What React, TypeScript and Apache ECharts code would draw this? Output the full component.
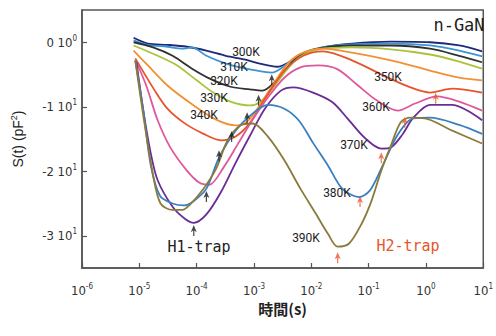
import React, { useEffect, useRef } from 'react';
import * as echarts from 'echarts';

// x values are log10(t / s), y values are S(t)
const xTickExponents = [-6, -5, -4, -3, -2, -1, 0, 1];
const yTickValues = [0, -1, -2, -3];
const yTickPowers = ['0', '1', '1', '1'];

const temperatures = ['300K', '310K', '320K', '330K', '340K', '350K', '360K', '370K', '380K', '390K'];

const s300K = [[-5.10, 0.07], [-4.85, -0.02], [-4.51, -0.04], [-4.17, -0.07], [-3.83, -0.13], [-3.49, -0.21], [-3.15, -0.27], [-2.90, -0.33], [-2.59, -0.38], [-2.39, -0.31], [-2.14, -0.19], [-1.80, -0.08], [-1.29, -0.02], [-0.61, 0.01], [0.07, 0.0], [0.58, -0.05], [0.98, -0.14]];
const s310K = [[-5.10, 0.03], [-4.85, -0.04], [-4.51, -0.07], [-4.25, -0.10], [-4.08, -0.08], [-3.83, -0.21], [-3.49, -0.33], [-3.07, -0.42], [-2.68, -0.47], [-2.44, -0.35], [-2.22, -0.21], [-1.97, -0.11], [-1.46, -0.04], [-0.61, -0.02], [0.07, -0.05], [0.58, -0.13], [0.98, -0.22]];
const s320K = [[-5.10, 0.0], [-4.76, -0.08], [-4.42, -0.21], [-4.08, -0.41], [-3.78, -0.56], [-3.41, -0.69], [-3.07, -0.73], [-2.85, -0.75], [-2.64, -0.62], [-2.44, -0.41], [-2.22, -0.22], [-1.88, -0.10], [-1.29, -0.05], [-0.61, -0.05], [0.07, -0.10], [0.58, -0.21], [0.98, -0.31]];
const s330K = [[-5.10, -0.05], [-4.68, -0.21], [-4.34, -0.36], [-4.00, -0.59], [-3.71, -0.78], [-3.41, -0.92], [-3.07, -0.98], [-2.90, -0.93], [-2.68, -0.72], [-2.44, -0.44], [-2.22, -0.24], [-1.88, -0.11], [-1.29, -0.08], [-0.61, -0.11], [0.07, -0.19], [0.58, -0.30], [0.98, -0.41]];
const s340K = [[-5.10, -0.13], [-4.85, -0.36], [-4.51, -0.67], [-4.05, -0.98], [-3.66, -1.20], [-3.32, -1.29], [-3.12, -1.23], [-2.90, -0.98], [-2.64, -0.62], [-2.39, -0.31], [-2.14, -0.16], [-1.80, -0.10], [-1.29, -0.16], [-0.61, -0.28], [0.07, -0.44], [0.58, -0.55], [0.98, -0.59]];
const s350K = [[-5.07, -0.25], [-4.73, -0.75], [-4.51, -1.03], [-4.22, -1.25], [-3.88, -1.42], [-3.58, -1.52], [-3.32, -1.46], [-3.07, -1.25], [-2.81, -0.88], [-2.47, -0.44], [-2.14, -0.21], [-1.80, -0.14], [-1.29, -0.28], [-0.66, -0.55], [-0.27, -0.70], [0.07, -0.78], [0.46, -0.72], [0.98, -0.78]];
const s360K = [[-5.05, -0.31], [-4.88, -0.67], [-4.68, -1.21], [-4.46, -1.63], [-4.17, -1.99], [-3.95, -2.18], [-3.78, -2.21], [-3.53, -1.94], [-3.27, -1.56], [-3.03, -1.21], [-2.76, -0.86], [-2.47, -0.55], [-2.19, -0.39], [-1.88, -0.36], [-1.54, -0.42], [-1.20, -0.66], [-0.86, -0.90], [-0.49, -1.06], [-0.19, -0.95], [0.19, -0.84], [0.58, -0.92], [0.98, -1.06]];
const s370K = [[-5.05, -0.31], [-4.93, -1.06], [-4.81, -1.68], [-4.68, -2.14], [-4.42, -2.55], [-4.20, -2.74], [-4.05, -2.80], [-3.83, -2.67], [-3.58, -2.33], [-3.32, -1.87], [-3.07, -1.45], [-2.81, -1.03], [-2.53, -0.75], [-2.31, -0.70], [-1.97, -0.78], [-1.63, -0.93], [-1.37, -1.18], [-1.07, -1.48], [-0.78, -1.65], [-0.61, -1.63], [-0.41, -1.43], [-0.22, -1.17], [0.07, -0.97], [0.46, -0.97], [0.98, -1.21]];
const s380K = [[-5.07, -0.28], [-4.93, -1.06], [-4.80, -1.91], [-4.64, -2.38], [-4.42, -2.50], [-4.22, -2.53], [-4.05, -2.46], [-3.83, -2.27], [-3.61, -1.79], [-3.32, -1.37], [-3.03, -1.11], [-2.76, -0.97], [-2.47, -1.03], [-2.22, -1.21], [-1.97, -1.56], [-1.71, -1.91], [-1.46, -2.27], [-1.17, -2.40], [-0.98, -2.30], [-0.78, -1.96], [-0.49, -1.43], [-0.22, -1.18], [0.07, -1.17], [0.58, -1.28], [0.98, -1.42]];
const s390K = [[-5.07, -0.28], [-4.93, -1.14], [-4.76, -2.06], [-4.63, -2.50], [-4.42, -2.60], [-4.25, -2.60], [-4.12, -2.52], [-3.88, -2.27], [-3.66, -1.96], [-3.46, -1.52], [-3.24, -1.29], [-3.02, -1.26], [-2.76, -1.46], [-2.47, -1.83], [-2.19, -2.27], [-1.92, -2.66], [-1.71, -2.97], [-1.54, -3.17], [-1.34, -3.12], [-1.12, -2.81], [-0.95, -2.46], [-0.78, -1.99], [-0.61, -1.60], [-0.44, -1.24], [-0.27, -1.17], [-0.02, -1.18], [0.46, -1.37], [0.98, -1.57]];

const h1Arrows = [[-4.05, -2.92], [-3.83, -2.39], [-3.61, -1.76], [-3.39, -1.46], [-3.12, -1.17], [-2.92, -0.90], [-2.69, -0.58]];
const h2Arrows = [[-1.54, -3.34], [-1.15, -2.47], [-0.78, -1.79], [-0.37, -1.24], [0.17, -0.87]];

const curves = [s300K, s310K, s320K, s330K, s340K, s350K, s360K, s370K, s380K, s390K];
const curveColors = ['#1e2a78', '#3d94d4', '#2e3330', '#a9c43c', '#f39033', '#e8532b', '#e0589c', '#6a2c96', '#3a7fc0', '#8a7a3c'];

const ARROW = 'path://M5,0 L10,9 L6,7 L6,14 L4,14 L4,7 L0,9 Z';

export default function App() {
  const ref = useRef<HTMLDivElement>(null);
  useEffect(() => {
    if (!ref.current) return;
    const chart = echarts.init(ref.current, null, { renderer: 'svg' });
    const labelFont = "'Liberation Sans Narrow', 'DejaVu Sans Condensed', 'Liberation Sans', sans-serif";
    const tempLabelPos = [[246, 52], [234, 67], [224, 81], [214, 98], [204, 115], [388, 77], [376, 107], [354, 145], [337, 193], [306, 238]];
    const series: any[] = curves.map((c, i) => ({
      type: 'line',
      name: temperatures[i],
      data: c,
      smooth: 0.3,
      showSymbol: false,
      lineStyle: { color: curveColors[i], width: 1.8 },
      z: 2,
    }));
    series.push({
      type: 'scatter', data: h1Arrows, symbol: ARROW, symbolSize: [6, 11],
      itemStyle: { color: '#1a1a1a' }, z: 5,
    });
    series.push({
      type: 'scatter', data: h2Arrows, symbol: ARROW, symbolSize: [6, 11],
      itemStyle: { color: '#e8552a' }, z: 5,
    });
    chart.setOption({
      animation: false,
      backgroundColor: '#ffffff',
      grid: { left: 82, right: 1, top: 10, bottom: 68, show: true, borderColor: '#555', borderWidth: 1.5 },
      xAxis: {
        type: 'value', min: -6, max: 1, interval: 1,
        name: '時間(s)', nameLocation: 'middle', nameGap: 32,
        nameTextStyle: { fontFamily: "'Noto Sans CJK JP', sans-serif", fontWeight: 'bold', fontSize: 15, color: '#222' },
        axisLine: { show: true, onZero: false, lineStyle: { color: '#555', width: 1.5 } },
        axisTick: { show: true, inside: true, length: 5, lineStyle: { color: '#555', width: 1.2 }, customValues: xTickExponents },
        splitLine: { show: false },
        axisLabel: {
          margin: 14,
          customValues: xTickExponents,
          formatter: (v: number) => `{a|10}{b|${v}}`,
          rich: {
            a: { fontSize: 13, color: '#333', fontFamily: labelFont },
            b: { fontSize: 8, color: '#333', fontFamily: labelFont, padding: [0, 0, 8, 0] },
          },
        },
      },
      yAxis: {
        type: 'value', min: -3.5, max: 0.5,
        name: '{a|S(t) (pF}{b|2}{a|)}', nameLocation: 'middle', nameGap: 56, nameRotate: 90,
        nameTextStyle: {
          rich: {
            a: { fontSize: 14, color: '#222', fontFamily: "'Liberation Sans', sans-serif" },
            b: { fontSize: 9, color: '#222', fontFamily: "'Liberation Sans', sans-serif", padding: [0, 0, 8, 0] },
          },
        },
        axisLine: { show: true, onZero: false, lineStyle: { color: '#555', width: 1.5 } },
        axisTick: { show: true, inside: true, length: 5, lineStyle: { color: '#555', width: 1.2 }, customValues: yTickValues },
        splitLine: { show: false },
        axisLabel: {
          margin: 5,
          customValues: yTickValues,
          formatter: (v: number) => {
            const i = yTickValues.indexOf(v);
            return `{a|${v} 10}{b|${yTickPowers[i]}}`;
          },
          rich: {
            a: { fontSize: 13, color: '#333', fontFamily: labelFont },
            b: { fontSize: 8, color: '#333', fontFamily: labelFont, padding: [0, 0, 8, 0] },
          },
        },
      },
      graphic: [
        ...temperatures.map((t, i) => ({
          type: 'text', x: tempLabelPos[i][0], y: tempLabelPos[i][1], z: 10,
          style: { text: t, fill: '#222', font: "12px Roboto, sans-serif", align: 'center', verticalAlign: 'middle' },
        })),
        { type: 'text', x: 199, y: 247, z: 10, style: { text: 'H1-trap', fill: '#222', font: "15px 'DejaVu Sans Mono', monospace", align: 'center', verticalAlign: 'middle' } },
        { type: 'text', x: 408, y: 246, z: 10, style: { text: 'H2-trap', fill: '#e8552a', font: "15px 'DejaVu Sans Mono', monospace", align: 'center', verticalAlign: 'middle' } },
        { type: 'text', x: 459, y: 25, z: 10, style: { text: 'n-GaN', fill: '#222', font: "17px 'DejaVu Sans Mono', monospace", align: 'center', verticalAlign: 'middle' } },
      ],
      series,
    });
    return () => chart.dispose();
  }, []);
  return <div ref={ref} style={{ position: 'fixed', left: 0, top: 0, width: 496, height: 336 }} />;
}
